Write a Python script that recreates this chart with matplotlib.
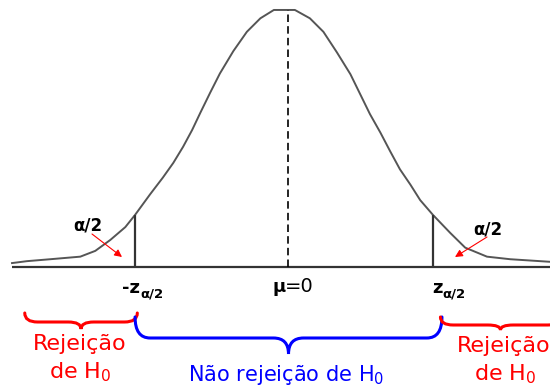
import numpy as np
import matplotlib
matplotlib.use("Agg")
import matplotlib.pyplot as plt
import matplotlib.transforms as mtransforms
from matplotlib.path import Path
from matplotlib.patches import PathPatch

# curve (z units, density)
z = [-3.68, -3.48, -3.17, -2.77, -2.57, -2.37, -2.17, -2.04, -1.84, -1.67,
     -1.53, -1.40, -1.28, -1.17, -1.04, -0.91, -0.73, -0.55, -0.37, -0.19,
     0.0, 0.09, 0.29, 0.47, 0.65, 0.83, 0.96, 1.09, 1.23, 1.36,
     1.49, 1.63, 1.76, 1.93, 2.16, 2.36, 2.65, 2.96, 3.49]
dens = [0.006, 0.009, 0.012, 0.016, 0.025, 0.042, 0.062, 0.081, 0.113, 0.139,
        0.162, 0.187, 0.213, 0.240, 0.271, 0.301, 0.336, 0.366, 0.387, 0.400,
        0.400, 0.400, 0.387, 0.366, 0.334, 0.300, 0.269, 0.238, 0.209, 0.180,
        0.152, 0.128, 0.104, 0.081, 0.053, 0.030, 0.016, 0.012, 0.008]
z_crit = [-2.04, 1.93]
mu = 0.0

W, H = 550, 389
fig = plt.figure(figsize=(W/100, H/100), dpi=100)
ax = fig.add_axes([0, 0, 1, 1])
ax.set_xlim(-3.84, 3.49)
ax.set_ylim(-0.19, 0.4155)
ax.axis('off')

# pixel coords from top-left, for placing texts
pix = mtransforms.Affine2D().scale(1/W, -1/H).translate(0, 1) + fig.transFigure
xpix = mtransforms.blended_transform_factory(ax.transData, pix)

ax.plot(z, dens, color='#555555', lw=1.4, solid_joinstyle='round')
ax.hlines(0, z[0], 3.49, color='#333333', lw=1.6)
for zc in z_crit:
    ax.vlines(zc, 0, np.interp(zc, z, dens), color='#333333', lw=1.6)
ax.vlines(mu, 0, max(dens), color='black', lw=1.2, linestyles=(0, (4.5, 2.5)))

# labels on the axis
bold = dict(fontweight='bold', color='black', family='DejaVu Sans')
ax.text(z_crit[0] + 0.07, 293, '-z', ha='right', va='baseline', fontsize=13,
        transform=xpix, **bold)
ax.text(z_crit[0] + 0.07, 298, 'α/2', ha='left', va='baseline', fontsize=9.5,
        transform=xpix, **bold)
ax.text(z_crit[1] - 0.01, 293, 'z', ha='left', va='baseline', fontsize=13,
        transform=xpix, **bold)
ax.text(z_crit[1] + 0.13, 298, 'α/2', ha='left', va='baseline', fontsize=9.5,
        transform=xpix, **bold)
ax.text(mu - 0.03, 292, 'μ', ha='right', va='baseline', fontsize=13,
        transform=xpix, **bold)
ax.text(mu - 0.05, 292, '=0', ha='left', va='baseline', fontsize=14,
        color='black', transform=xpix)

# alpha/2 with arrows
ax.text(88, 226, 'α/2', ha='center', va='center', fontsize=12,
        transform=pix, **bold)
ax.text(488, 230, 'α/2', ha='center', va='center', fontsize=12,
        transform=pix, **bold)
arr = dict(arrowstyle='-|>', color='red', lw=0.8, mutation_scale=11,
           shrinkA=0, shrinkB=0)
ax.annotate('', xy=(122, 257), xytext=(92, 234), xycoords=pix,
            textcoords=pix, arrowprops=arr)
ax.annotate('', xy=(455, 257), xytext=(487, 237), xycoords=pix,
            textcoords=pix, arrowprops=arr)


def brace(x0, x1, y_end, y_line, y_tip, rx, color):
    xm = (x0 + x1) / 2
    verts = [(x0, y_end), (x0, y_line), (x0 + rx, y_line),
             (xm - rx, y_line), (xm, y_line), (xm, y_tip),
             (xm, y_line), (xm + rx, y_line),
             (x1 - rx, y_line), (x1, y_line), (x1, y_end)]
    codes = [Path.MOVETO, Path.CURVE3, Path.CURVE3,
             Path.LINETO, Path.CURVE3, Path.CURVE3,
             Path.CURVE3, Path.CURVE3,
             Path.LINETO, Path.CURVE3, Path.CURVE3]
    ax.add_patch(PathPatch(Path(verts, codes), fill=False, edgecolor=color,
                           lw=2.2, capstyle='round', transform=xpix))


brace(-3.51, z_crit[0] + 0.03, 313, 322, 329, 0.17, 'red')
brace(z_crit[0], z_crit[1] + 0.12, 317, 338, 354, 0.2, 'blue')
brace(z_crit[1] + 0.1, 3.63, 317, 325, 330, 0.17, 'red')

ax.text(80, 344, 'Rejeição', ha='center', va='center', fontsize=16,
        color='red', transform=pix)
ax.text(80, 372, 'de H$_0$', ha='center', va='center', fontsize=16,
        color='red', transform=pix)
ax.text(504, 346, 'Rejeição', ha='center', va='center', fontsize=16,
        color='red', transform=pix)
ax.text(505, 374, 'de H$_0$', ha='center', va='center', fontsize=16,
        color='red', transform=pix)
ax.text(286, 375, 'Não rejeição de H$_0$', ha='center', va='center',
        fontsize=15, color='blue', transform=pix)

fig.savefig('out.png', dpi=100, facecolor='white')
